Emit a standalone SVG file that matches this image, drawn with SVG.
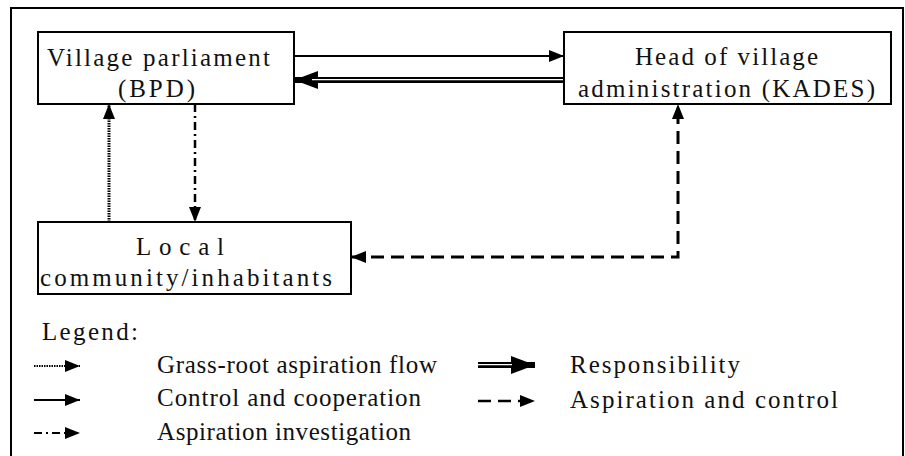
<svg xmlns="http://www.w3.org/2000/svg" width="905" height="456" viewBox="0 0 905 456">
<defs>
<style>
.box{fill:#fff;stroke:#000;stroke-width:2}
.t{font-family:"Liberation Serif","Times New Roman",serif;font-size:25px;fill:#111}
.ln{fill:none;stroke:#000}
.solid{stroke-width:2}
.dot{stroke-width:3;stroke-dasharray:1.5 1}
.dd{stroke-width:2.5;stroke-dasharray:8 4 2 4}
.dash{stroke-width:3;stroke-dasharray:13 7}
.dbl{stroke-width:6}
.gap{stroke:#fff;stroke-width:1.3;fill:none}
</style>
<marker id="hs" markerUnits="userSpaceOnUse" markerWidth="15" markerHeight="12" refX="15" refY="6" orient="auto-start-reverse"><path d="M0,0 L15,6 L0,12 z" fill="#000"/></marker>
<marker id="hl" markerUnits="userSpaceOnUse" markerWidth="24" markerHeight="18" refX="24" refY="9" orient="auto"><path d="M0,0 L24,9 L0,18 z" fill="#000"/></marker>
</defs>
<rect width="905" height="456" fill="#fff"/>
<g id="frame" fill="none" stroke="#000" stroke-width="2">
<path d="M11,456 V8 H903 V456"/>
</g>
<g id="connectors">
<line class="ln solid" x1="294" y1="56" x2="564" y2="56" marker-end="url(#hs)"/>
<line class="ln dbl" x1="564" y1="80" x2="294" y2="80" marker-end="url(#hl)"/>
<line class="gap" x1="564" y1="79.6" x2="312" y2="79.6"/>
<line class="ln dot" x1="109" y1="222" x2="109" y2="104" marker-end="url(#hs)"/>
<line class="ln dd" x1="195" y1="104" x2="195" y2="222" marker-end="url(#hs)"/>
<path class="ln dash" d="M351,257 H678 V104" marker-start="url(#hs)" marker-end="url(#hs)"/>
</g>
<g id="bpd">
<rect class="box" x="38" y="32" width="256" height="72"/>
<text class="t" x="47" y="66" textLength="223" lengthAdjust="spacing">Village parliament</text>
<text class="t" x="118" y="97" textLength="77" lengthAdjust="spacing">(BPD)</text>
</g>
<g id="kades">
<rect class="box" x="564" y="32" width="327" height="72"/>
<text class="t" x="635" y="65" textLength="183" lengthAdjust="spacing">Head of village</text>
<text class="t" x="578" y="97" textLength="297" lengthAdjust="spacing">administration (KADES)</text>
</g>
<g id="community">
<rect class="box" x="38" y="222" width="313" height="72"/>
<text class="t" x="136" y="255" textLength="88" lengthAdjust="spacing">Local</text>
<text class="t" x="40" y="286" textLength="292" lengthAdjust="spacing">community/inhabitants</text>
</g>
<g id="legend">
<text class="t" x="42" y="340" textLength="96" lengthAdjust="spacing">Legend:</text>
<line class="ln dot" style="stroke-width:2" x1="34" y1="366" x2="80" y2="366" marker-end="url(#hs)"/>
<text class="t" x="157" y="373" textLength="280" lengthAdjust="spacing">Grass-root aspiration flow</text>
<line class="ln solid" x1="34" y1="400" x2="80" y2="400" marker-end="url(#hs)"/>
<text class="t" x="157" y="406" textLength="264" lengthAdjust="spacing">Control and cooperation</text>
<line class="ln dd" style="stroke-width:2" x1="34" y1="433" x2="80" y2="433" marker-end="url(#hs)"/>
<text class="t" x="157" y="440" textLength="254" lengthAdjust="spacing">Aspiration investigation</text>
<line class="ln dbl" x1="478" y1="365" x2="535" y2="365" marker-end="url(#hl)"/>
<line class="gap" x1="478" y1="364.6" x2="512" y2="364.6"/>
<text class="t" x="570" y="373" textLength="170" lengthAdjust="spacing">Responsibility</text>
<line class="ln dash" style="stroke-width:2.5" x1="478" y1="401" x2="535" y2="401" marker-end="url(#hs)"/>
<text class="t" x="570" y="408" textLength="268" lengthAdjust="spacing">Aspiration and control</text>
</g>
</svg>
